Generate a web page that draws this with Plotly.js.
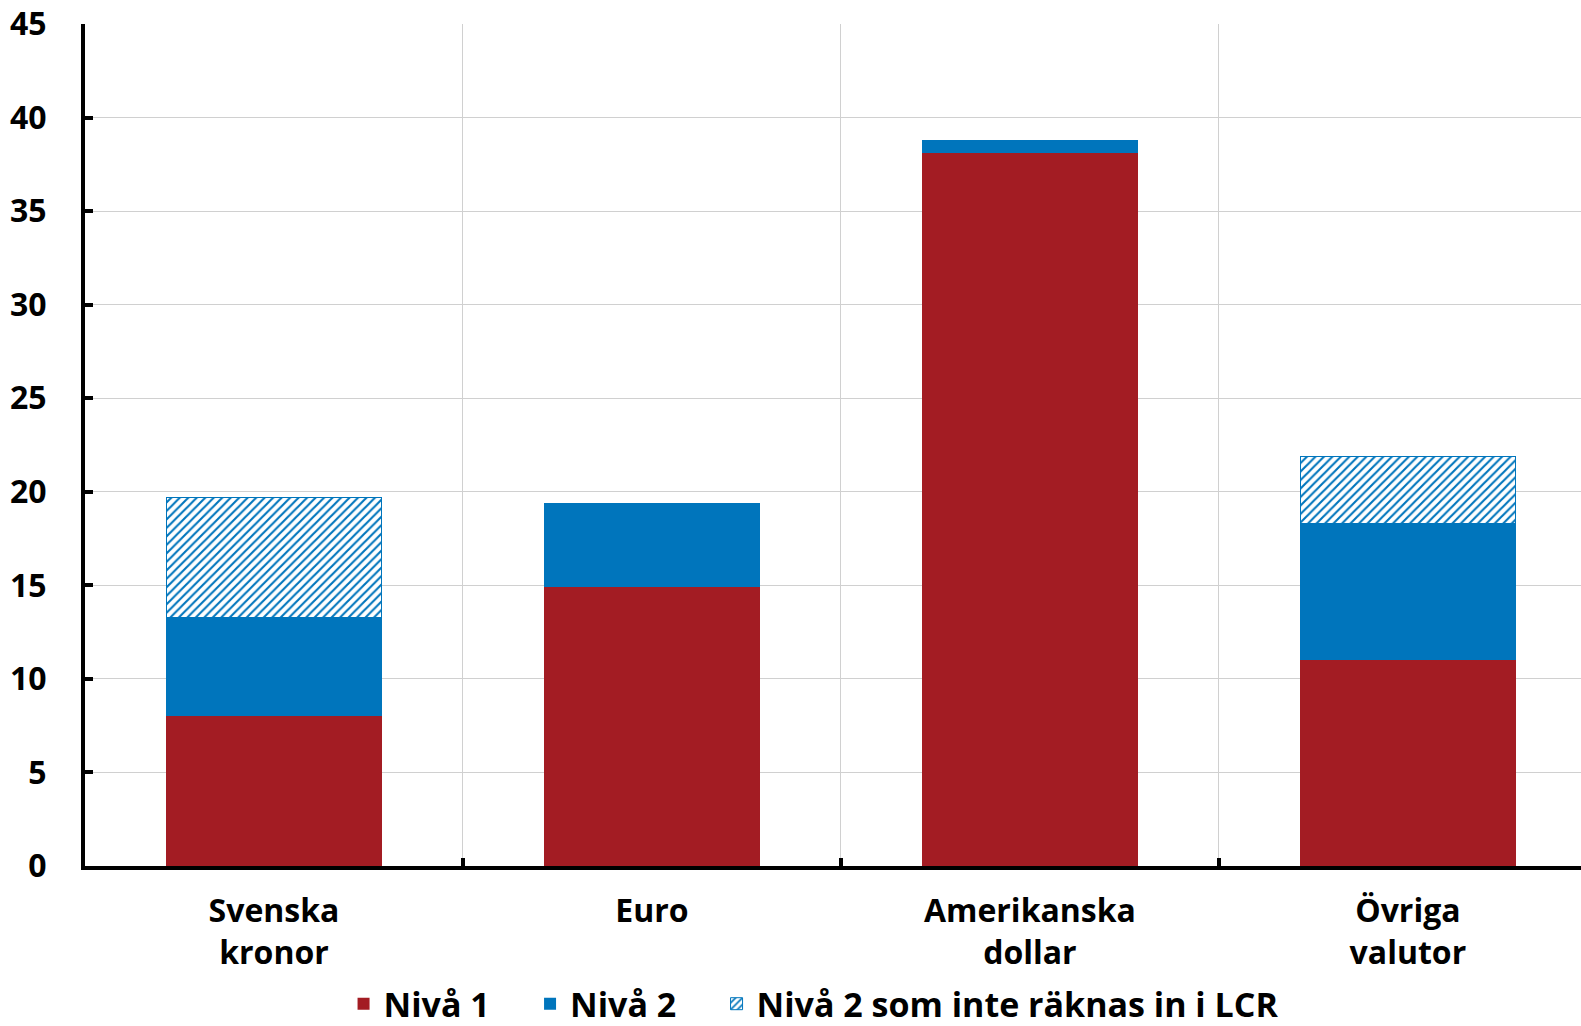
<!DOCTYPE html>
<html>
<head>
<meta charset="utf-8">
<script src="https://cdn.plot.ly/plotly-3.0.1.min.js"></script>
<style>html,body{margin:0;padding:0;background:#fff;}#chart{width:1581px;height:1026px;}</style>
</head>
<body>
<div id="chart"></div>
<script>
const categories = ["Svenska<br>kronor", "Euro", "Amerikanska<br>dollar", "Övriga<br>valutor"];
const niva1 = [8.0, 14.9, 38.1, 11.0];
const niva2 = [5.3, 4.5, 0.7, 7.3];
const niva2EjLCR = [6.4, 0, 0, 3.6];
const seriesNames = ["Nivå 1", "Nivå 2", "Nivå 2 som inte räknas in i LCR"];
const yTicks = [0, 5, 10, 15, 20, 25, 30, 35, 40, 45];

const RED = "#A31C23";
const BLUE = "#0075BC";
const FONT = "Open Sans";
const GAP = "\u00a0\u00a0\u00a0\u00a0";

const traces = [
  {type: "bar", name: seriesNames[0] + GAP, x: categories, y: niva1,
   marker: {color: RED, line: {width: 0}}, hoverinfo: "y"},
  {type: "bar", name: seriesNames[1] + GAP, x: categories, y: niva2,
   marker: {color: BLUE, line: {width: 0}}, hoverinfo: "y"},
  {type: "bar", name: seriesNames[2], x: categories, y: niva2EjLCR,
   marker: {color: "#ffffff", line: {color: BLUE, width: 1},
            pattern: {shape: "/", fgcolor: BLUE, bgcolor: "#ffffff", size: 6, solidity: 0.35}},
   hoverinfo: "y"}
];

const layout = {
  width: 1581, height: 1026,
  margin: {l: 85, r: 0, t: 24, b: 160, autoexpand: false},
  paper_bgcolor: "#fff", plot_bgcolor: "#fff",
  barmode: "stack",
  bargap: 0.43,
  font: {family: FONT, size: 32, color: "#000", weight: "bold"},
  showlegend: true,
  legend: {orientation: "h", x: 0.487, xanchor: "center", y: -0.164, yanchor: "middle",
           font: {family: FONT, size: 34, color: "#000", weight: "bold"},
           itemwidth: 30, tracegroupgap: 0, traceorder: "normal"},
  xaxis: {
    type: "category", range: [-0.5, 3.458], tickson: "boundaries",
    showline: true, linecolor: "#000", linewidth: 4,
    ticks: "inside", ticklen: 8, tickwidth: 4, tickcolor: "#000",
    showgrid: true, gridcolor: "#d0d0d0", gridwidth: 1,
    tickfont: {family: FONT, size: 32, color: "#000", weight: "bold"},
    ticklabelstandoff: 14, automargin: false,
    fixedrange: true
  },
  yaxis: {
    range: [0, 45], tickvals: yTicks, ticktext: yTicks.map(String),
    showline: true, linecolor: "#000", linewidth: 4,
    ticks: "inside", ticklen: 8, tickwidth: 4, tickcolor: "#000",
    showgrid: true, gridcolor: "#d0d0d0", gridwidth: 1,
    zeroline: false,
    tickfont: {family: FONT, size: 32, color: "#000", weight: "bold"},
    ticklabelstandoff: 28, automargin: false,
    fixedrange: true
  }
};

Plotly.newPlot("chart", traces, layout, {displayModeBar: false, staticPlot: true});
</script>
</body>
</html>
